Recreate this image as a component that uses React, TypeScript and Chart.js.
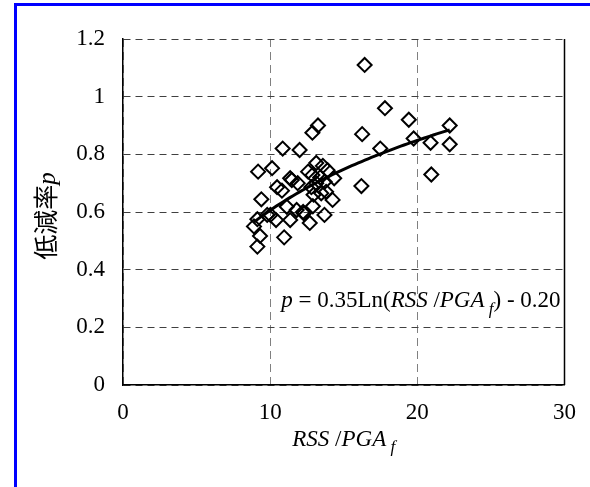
import { useEffect, useRef } from "react";
import { Chart, registerables } from "chart.js";

Chart.register(...registerables);

// Observed reduction rate p against RSS / PGA_f
const rssPgaValues = [
  16.42, 17.8, 19.42, 20.9, 13.25, 12.87, 16.25, 17.48, 19.75, 22.2,
  22.2, 20.95, 16.2, 10.85, 12.0, 9.18, 10.13, 13.13, 13.58, 9.4,
  10.47, 10.8, 11.47, 11.87, 12.87, 14.35, 14.24, 13.47, 11.13, 11.8,
  12.24, 12.9, 13.69, 12.69, 11.36, 10.4, 10.02, 9.13, 8.9, 9.31,
  9.13, 10.95, 13.8, 13.13, 12.8, 12.58, 11.36, 12.29, 9.8, 13.4,
  13.7, 12.95, 13.9,
];
const reductionRates = [
  1.11, 0.96, 0.92, 0.84, 0.9, 0.875, 0.87, 0.82, 0.855, 0.9,
  0.835, 0.73, 0.69, 0.82, 0.815, 0.74, 0.752, 0.77, 0.76, 0.644,
  0.686, 0.674, 0.711, 0.7, 0.728, 0.717, 0.642, 0.665, 0.618, 0.607,
  0.6, 0.62, 0.59, 0.562, 0.572, 0.572, 0.59, 0.575, 0.55, 0.517,
  0.48, 0.512, 0.67, 0.7, 0.686, 0.74, 0.717, 0.595, 0.59, 0.72,
  0.705, 0.66, 0.745,
];

// Logarithmic fit p = A ln(x) + B
const fitA = 0.35;
const fitB = -0.2;
const fitRange = [8.9, 22.2];

const xTickValues = [0, 10, 20, 30];
const yTickValues = [0, 0.2, 0.4, 0.6, 0.8, 1.0, 1.2];
const yTickLabels = ["0", "0.2", "0.4", "0.6", "0.8", "1", "1.2"];

const SERIF = "'Liberation Serif', 'Times New Roman', serif";
const CJK = "'Noto Sans CJK JP', 'Noto Sans', sans-serif";
const TICK_SIZE = 23;
const TEXT_SIZE = 23;

type Seg = { t: string; italic?: boolean; sub?: boolean; family?: string };

function segFont(s: Seg, size: number) {
  const sz = s.sub ? Math.round(size * 0.72) : size;
  return `${s.italic ? "italic " : ""}${sz}px ${s.family || SERIF}`;
}

function drawRich(
  ctx: CanvasRenderingContext2D,
  segs: Seg[],
  x: number,
  y: number,
  size: number,
  align: "left" | "center"
) {
  ctx.textBaseline = "alphabetic";
  ctx.textAlign = "left";
  const widths = segs.map((s) => {
    ctx.font = segFont(s, size);
    return ctx.measureText(s.t).width;
  });
  const total = widths.reduce((a, b) => a + b, 0);
  let cx = align === "center" ? x - total / 2 : x;
  segs.forEach((s, i) => {
    ctx.font = segFont(s, size);
    ctx.fillText(s.t, cx, s.sub ? y + size * 0.28 : y);
    cx += widths[i];
  });
}

const xTitle: Seg[] = [
  { t: "RSS", italic: true },
  { t: " /" },
  { t: "PGA", italic: true },
  { t: " f", italic: true, sub: true },
];

const yTitle: Seg[] = [
  { t: "低減率", family: CJK },
  { t: "p", italic: true },
];

const equation: Seg[] = [
  { t: "p", italic: true },
  { t: " = 0.35Ln(" },
  { t: "RSS", italic: true },
  { t: " /" },
  { t: "PGA", italic: true },
  { t: " f", italic: true, sub: true },
  { t: ") - 0.20" },
];

const decorPlugin = {
  id: "decor",
  afterDraw(chart: any) {
    const ctx: CanvasRenderingContext2D = chart.ctx;
    const { top, bottom, right } = chart.chartArea;
    const xs = chart.scales.x;
    const ys = chart.scales.y;
    ctx.save();
    // solid right frame
    ctx.strokeStyle = "#000";
    ctx.lineWidth = 1.5;
    ctx.beginPath();
    ctx.moveTo(right, top);
    ctx.lineTo(right, bottom);
    ctx.stroke();

    ctx.fillStyle = "#000";
    // fit equation
    drawRich(ctx, equation, xs.getPixelForValue(10.75), ys.getPixelForValue(0.27), TEXT_SIZE, "left");
    // x-axis title
    drawRich(ctx, xTitle, (xs.left + xs.right) / 2, 446, TEXT_SIZE, "center");
    // y-axis title, rotated
    ctx.translate(55, 216);
    ctx.rotate(-Math.PI / 2);
    drawRich(ctx, yTitle, 0, 0, 25, "center");
    ctx.restore();
  },
};

export default function App() {
  const canvasRef = useRef<HTMLCanvasElement | null>(null);

  useEffect(() => {
    document.body.style.margin = "0";
    const canvas = canvasRef.current;
    if (!canvas) return;

    const points = rssPgaValues.map((x, i) => ({ x, y: reductionRates[i] }));
    const fitPoints: { x: number; y: number }[] = [];
    const steps = 60;
    for (let i = 0; i <= steps; i++) {
      const x = fitRange[0] + ((fitRange[1] - fitRange[0]) * i) / steps;
      fitPoints.push({ x, y: fitA * Math.log(x) + fitB });
    }

    const chart = new Chart(canvas, {
      type: "scatter",
      data: {
        datasets: [
          {
            data: fitPoints,
            showLine: true,
            borderColor: "#000",
            borderWidth: 3,
            pointRadius: 0,
            fill: false,
          },
          {
            data: points,
            pointStyle: "rectRot",
            pointRadius: 7,
            pointBorderWidth: 2,
            pointBorderColor: "#000",
            pointBackgroundColor: "rgba(0,0,0,0)",
            showLine: false,
          },
        ],
      },
      options: {
        animation: false,
        responsive: false,
        events: [],
        layout: { padding: { left: 0, right: 18, top: 39, bottom: 0 } },
        plugins: {
          legend: { display: false },
          tooltip: { enabled: false },
        },
        scales: {
          x: {
            type: "linear",
            min: 0,
            max: 30,
            afterBuildTicks: (scale: any) => {
              scale.ticks = xTickValues.map((v) => ({ value: v }));
            },
            afterFit: (scale: any) => {
              scale.height = 102;
            },
            ticks: {
              color: "#000",
              padding: 14,
              font: { family: SERIF, size: TICK_SIZE },
              callback: (v: any) => String(v),
            },
            grid: {
              color: "#808080",
              lineWidth: 1,
              drawTicks: false,
            },
            border: { display: true, color: "#000", width: 1.5, dash: [8, 5] },
          },
          y: {
            type: "linear",
            min: 0,
            max: 1.2,
            afterBuildTicks: (scale: any) => {
              scale.ticks = yTickValues.map((v) => ({ value: v }));
            },
            afterFit: (scale: any) => {
              scale.width = 123;
            },
            ticks: {
              color: "#000",
              padding: 18,
              font: { family: SERIF, size: TICK_SIZE },
              callback: (v: any) => {
                const i = yTickValues.findIndex((t) => Math.abs(t - v) < 1e-6);
                return i >= 0 ? yTickLabels[i] : "";
              },
            },
            grid: {
              color: "#404040",
              lineWidth: 1,
              drawTicks: false,
            },
            border: { display: true, color: "#000", width: 1.5, dash: [7, 5] },
          },
        },
      },
      plugins: [decorPlugin],
    } as any);

    return () => chart.destroy();
  }, []);

  return (
    <div style={{ position: "relative", width: 590, height: 487, overflow: "hidden", background: "#fff" }}>
      <canvas ref={canvasRef} width={590} height={487} style={{ display: "block" }} />
      <div
        style={{
          position: "absolute",
          left: 14,
          top: 3,
          width: 620,
          height: 520,
          borderLeft: "3px solid #0000ff",
          borderTop: "3px solid #0000ff",
          pointerEvents: "none",
        }}
      />
    </div>
  );
}
